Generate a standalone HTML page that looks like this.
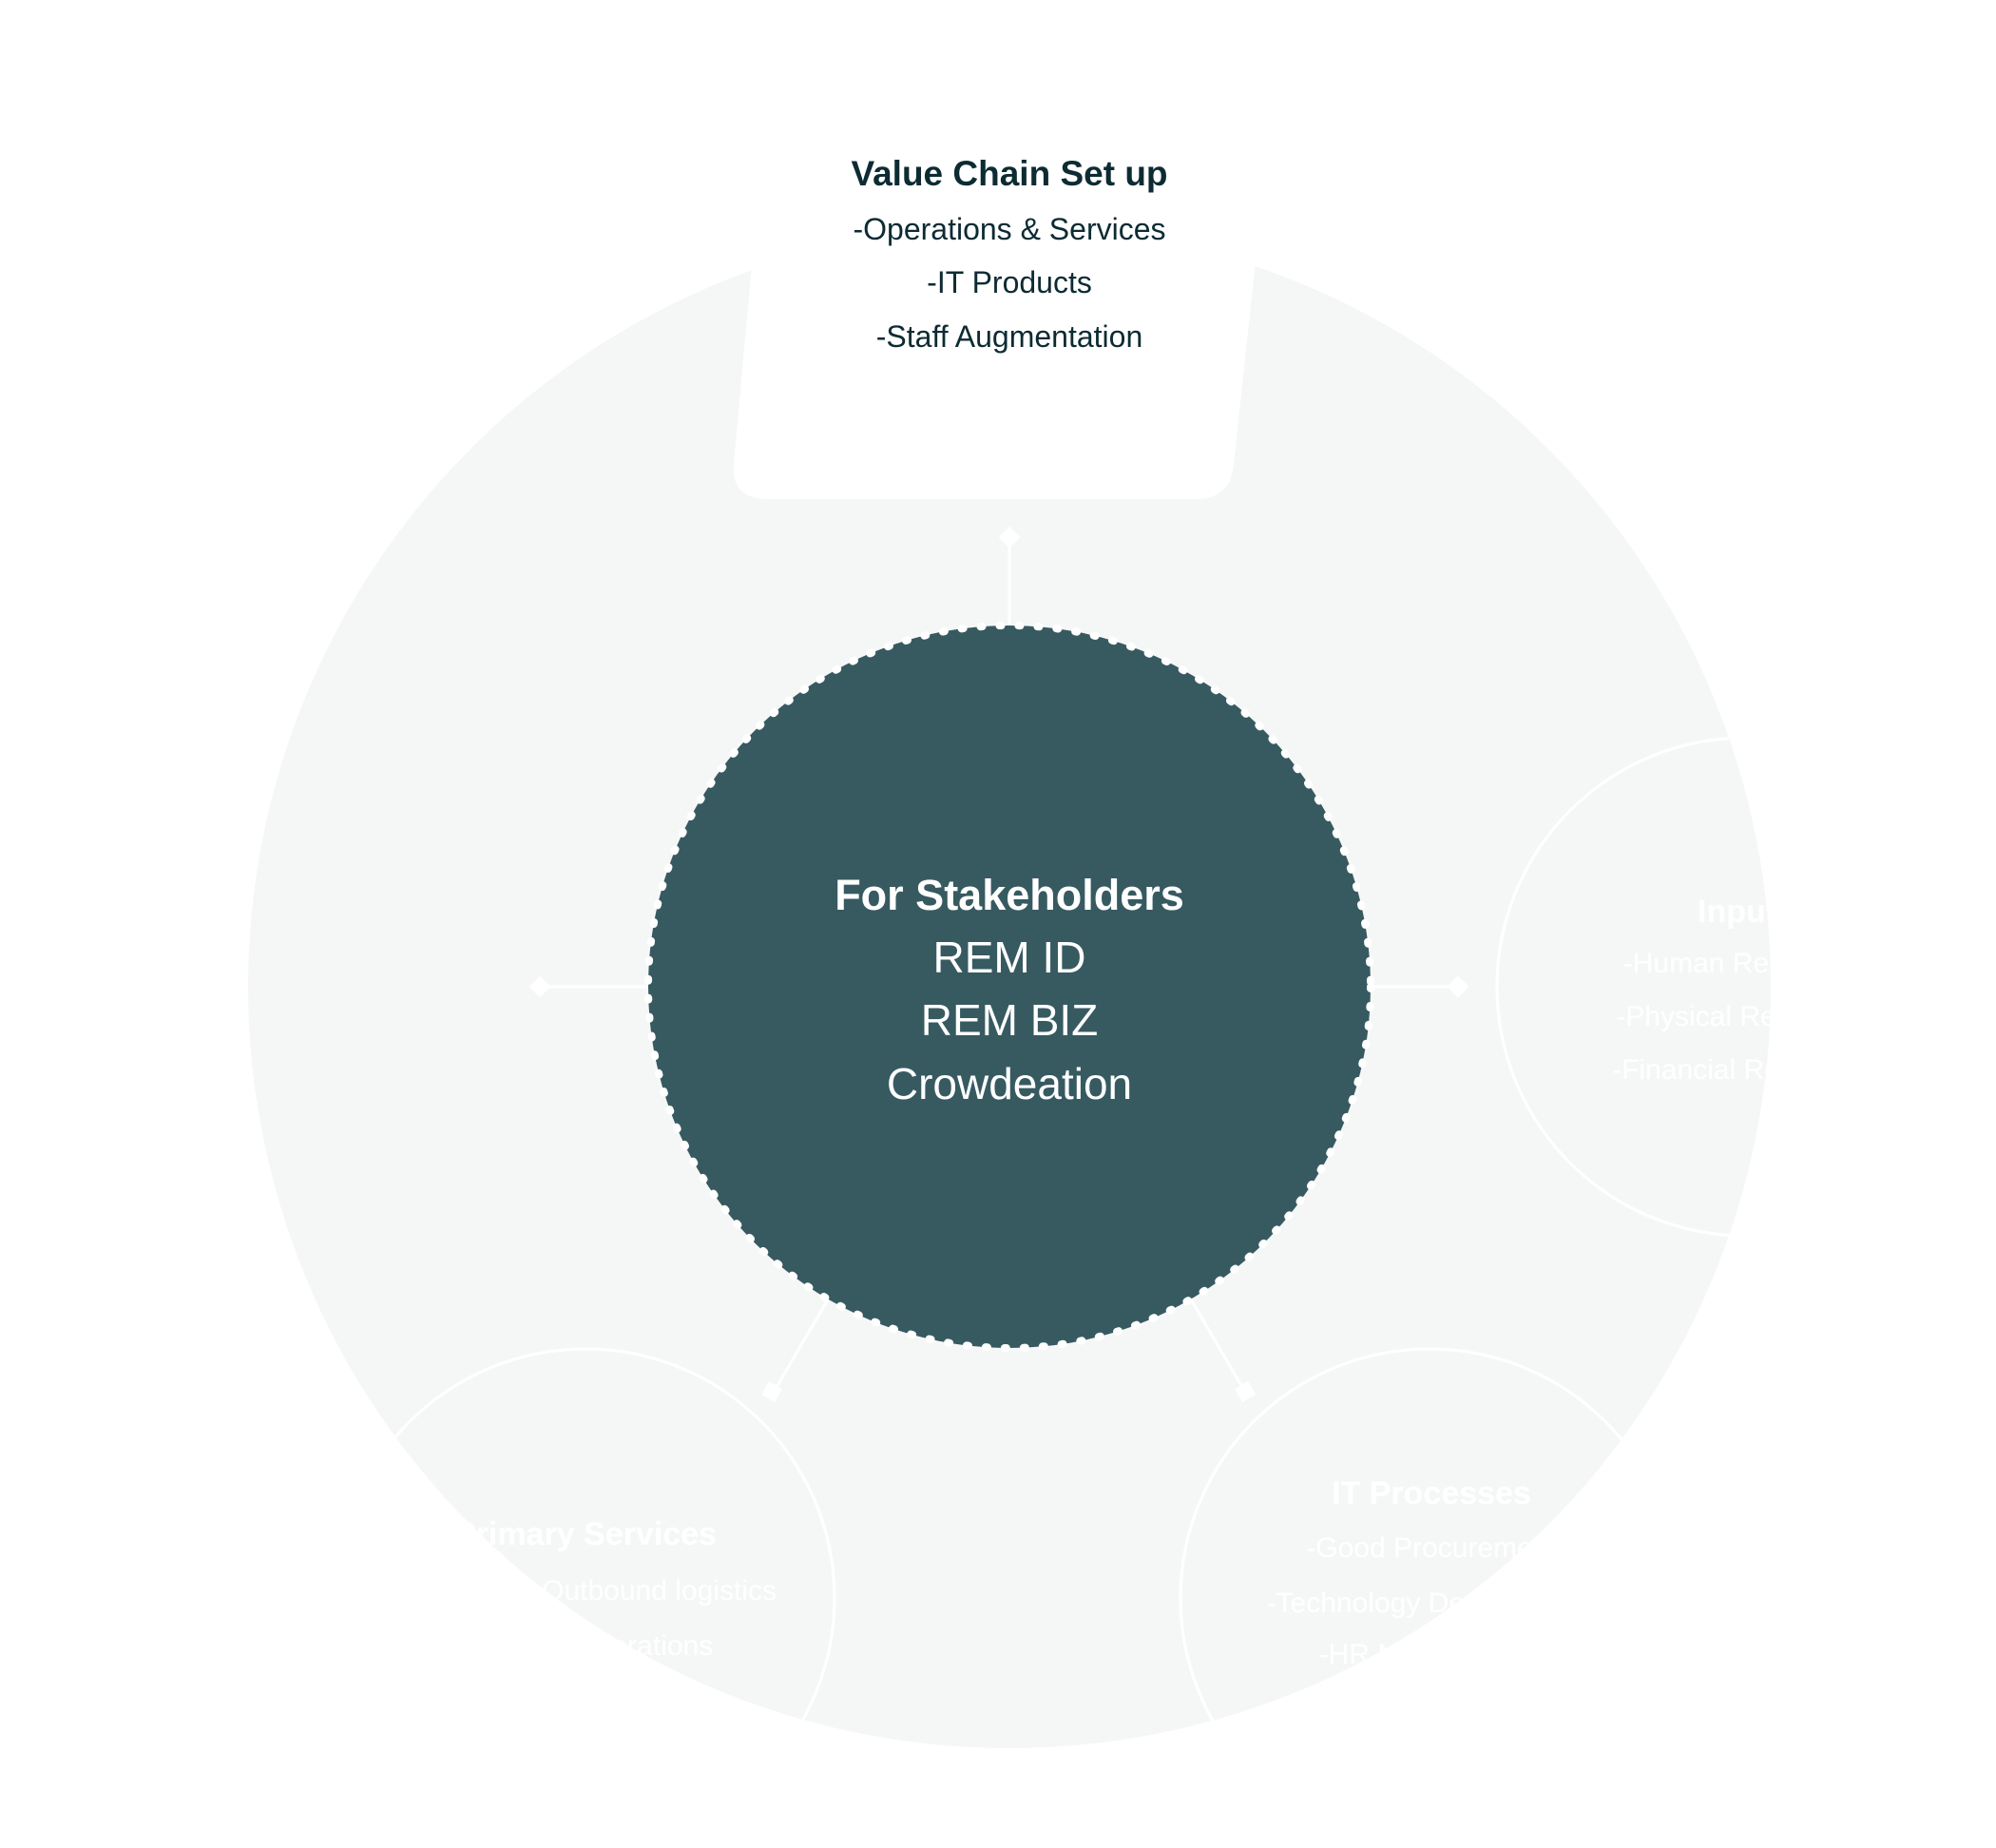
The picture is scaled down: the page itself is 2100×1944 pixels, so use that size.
<!DOCTYPE html>
<html><head><meta charset="utf-8"><style>
html,body{margin:0;padding:0;background:#fff;}
svg{display:block;font-family:"Liberation Sans",sans-serif;}
</style></head><body>
<svg width="2100" height="1944" viewBox="0 0 2100 1944" xmlns="http://www.w3.org/2000/svg">
<defs>
<clipPath id="big"><circle cx="1062" cy="1038" r="801"/></clipPath>
</defs>
<circle cx="1062" cy="1038" r="801" fill="#f5f7f6"/>
<g clip-path="url(#big)">
  <circle cx="1837" cy="1038" r="262" fill="#f5f7f6" stroke="#fff" stroke-width="3"/>
  <circle cx="616" cy="1681" r="262" fill="#f5f7f6" stroke="#fff" stroke-width="3"/>
  <circle cx="1504" cy="1681" r="262" fill="#f5f7f6" stroke="#fff" stroke-width="3"/>
  <g fill="#fff" text-anchor="middle">
    <text x="1837" y="970" font-size="34" font-weight="bold">Inputs</text>
    <text x="1837" y="1023" font-size="30">-Human Resources</text>
    <text x="1837" y="1079" font-size="30">-Physical Resources</text>
    <text x="1837" y="1135" font-size="30">-Financial Resources</text>
    <text x="616" y="1625" font-size="34" font-weight="bold">Primary Services</text>
    <text x="616" y="1683" font-size="30">-Inbound &amp; Outbound logistics</text>
    <text x="616" y="1741" font-size="30">-Sales &amp; Operations</text>
    <text x="1506" y="1582" font-size="34" font-weight="bold">IT Processes</text>
    <text x="1506" y="1638" font-size="30">-Good Procurement</text>
    <text x="1506" y="1696" font-size="30">-Technology Development</text>
    <text x="1506" y="1750" font-size="30">-HR Management</text>
  </g>
</g>
<path d="M811,60 L772,488 Q769,525 808,525 L1258,525 Q1295,525 1298,488 L1344,60 Z" fill="#fff"/>
<g fill="#0d2b33" text-anchor="middle">
  <text x="1062" y="195" font-size="37" font-weight="bold">Value Chain Set up</text>
  <text x="1062" y="252" font-size="32">-Operations &amp; Services</text>
  <text x="1062" y="308" font-size="32">-IT Products</text>
  <text x="1062" y="365" font-size="32">-Staff Augmentation</text>
</g>
<g stroke="#fff" stroke-width="3">
  <line x1="1062" y1="565" x2="1062" y2="660"/>
  <line x1="568" y1="1038" x2="684" y2="1038"/>
  <line x1="1440" y1="1038" x2="1538" y2="1038"/>
  <line x1="871" y1="1367" x2="813" y2="1466"/>
  <line x1="1253" y1="1367" x2="1311" y2="1466"/>
</g>
<g fill="#fff">
  <rect x="1054" y="557" width="16" height="16" transform="rotate(45 1062 565)"/>
  <rect x="560" y="1030" width="16" height="16" transform="rotate(45 568 1038)"/>
  <rect x="1526" y="1030" width="16" height="16" transform="rotate(45 1534 1038)"/>
  <rect x="804" y="1456" width="16" height="16" transform="rotate(30 812 1464)"/>
  <rect x="1302" y="1456" width="16" height="16" transform="rotate(-30 1310 1464)"/>
</g>
<circle cx="1062" cy="1038" r="380" fill="#375a61"/>
<circle cx="1062" cy="1038" r="380" fill="none" stroke="#fff" stroke-width="8" stroke-dasharray="2 18" stroke-linecap="round"/>
<g fill="#fff" text-anchor="middle">
  <text x="1062" y="957" font-size="45" font-weight="bold">For Stakeholders</text>
  <text x="1062" y="1023" font-size="46">REM ID</text>
  <text x="1062" y="1089" font-size="46">REM BIZ</text>
  <text x="1062" y="1156" font-size="46">Crowdeation</text>
</g>
</svg>
</body></html>
